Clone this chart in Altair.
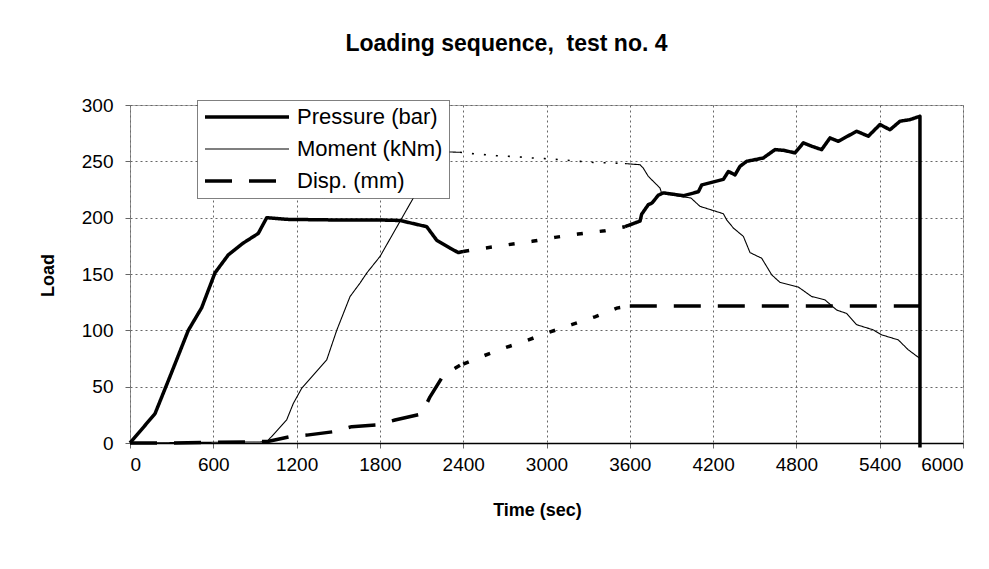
import altair as alt
import pandas as pd

SERIES = ["Pressure (bar)", "Moment (kNm)", "Disp. (mm)"]

# ---- Pressure (bar) ----
pres_a_t = [0, 180, 288, 420, 516, 612, 708, 816, 924, 985, 1128, 1450, 1777, 1945, 2137, 2209, 2305, 2365, 2400]
pres_a_v = [0, 26, 59, 100, 120, 151, 167, 177.5, 186, 200, 198.5, 198, 198, 197.5, 192, 180, 173, 169, 170]
pres_gap_t = [2400, 2557, 2723, 2896, 3061, 3227, 3421, 3565]
pres_gap_v = [170, 173, 176, 179, 182.5, 185.5, 188.4, 192]
pres_b_t = [3565, 3674, 3685, 3733, 3760, 3806, 3842, 3986, 4094, 4118, 4274, 4310, 4358, 4394, 4442,
            4562, 4646, 4706, 4790, 4850, 4910, 4982, 5042, 5102, 5234, 5318, 5402, 5474, 5546, 5618, 5690, 5690]
pres_b_v = [192, 197, 203, 211.5, 213, 220, 222, 219.5, 223, 229, 234, 241, 238, 245.6, 250,
            253, 260.4, 259.8, 257.5, 266.4, 263.4, 260.4, 270.8, 267.8, 276.7, 272.3, 282.7, 278, 285.6, 287, 290, -4]

# ---- Moment (kNm) ----
mom_a_t = [0, 985, 1128, 1176, 1237, 1417, 1489, 1585, 1657, 1705, 1801, 2041, 2233, 2377]
mom_a_v = [0, 1, 20.4, 35, 48.6, 73.8, 100, 130, 142, 150.8, 165.6, 217.5, 258.6, 258]
mom_gap_t = [2377, 2449, 2545, 2641, 2713, 2797, 2893, 2989, 3145, 3241, 3337, 3457, 3565]
mom_gap_v = [258, 257, 256, 255, 254.5, 254, 253, 252.4, 251, 250, 249, 248.6, 248]
mom_b_t = [3565, 3674, 3697, 3733, 3781, 3817, 3829, 3985, 4040, 4106, 4274, 4298, 4346, 4418, 4466,
           4550, 4622, 4682, 4814, 4910, 5006, 5090, 5162, 5234, 5354, 5414, 5534, 5606, 5690]
mom_b_v = [248, 247, 244, 236.7, 230.8, 226.4, 222, 218.4, 217.5, 210, 203.5, 198, 190.8, 183.4, 169,
           164, 149.3, 142.5, 138.4, 130, 127, 118, 115, 105, 100.4, 96, 91.5, 82.7, 75]

# ---- Disp. (mm) ----
disp_a_t = [0, 300, 600, 900, 1000, 1152, 1273, 1464, 1597, 1777, 1909, 2101, 2161, 2257, 2377]
disp_a_v = [0, 0, 0.5, 1, 1.5, 5.6, 7, 10, 14.5, 16, 20.4, 25.8, 41, 60, 69]
disp_gap_t = [2400, 2533, 2689, 2857, 3013, 3181, 3349, 3506, 3600]
disp_gap_v = [70, 76.7, 84, 91, 98, 105, 112, 119.7, 121.5]
disp_b_t = [3600, 5690]
disp_b_v = [121.5, 121.5]

x_ticks = list(range(0, 6001, 600))
y_ticks = list(range(0, 301, 50))


def frame(series, part, ts, vs):
    return pd.DataFrame({"t": ts, "v": vs, "series": series, "part": part, "idx": range(len(ts))})


solid = pd.concat([
    frame(SERIES[2], "d1", disp_a_t, disp_a_v),
    frame(SERIES[2], "d2", disp_b_t, disp_b_v),
    frame(SERIES[1], "m1", mom_a_t, mom_a_v),
    frame(SERIES[1], "m2", mom_b_t, mom_b_v),
    frame(SERIES[0], "p1", pres_a_t, pres_a_v),
    frame(SERIES[0], "p2", pres_b_t, pres_b_v),
])
gap_thick = pd.concat([
    frame(SERIES[0], "pg", pres_gap_t, pres_gap_v),
    frame(SERIES[2], "dg", disp_gap_t, disp_gap_v),
])
gap_thin = frame(SERIES[1], "mg", mom_gap_t, mom_gap_v)

FONT = "Liberation Sans"

xenc = alt.X("t:Q", scale=alt.Scale(domain=[0, 6000], nice=False),
             axis=alt.Axis(values=x_ticks, format="d", title="Time (sec)", titleX=407, titleY=67,
                           titleBaseline="middle", labelPadding=7, labelBaseline="top",
                           domainColor="black", domainWidth=1.5, domainDash=[1, 0]))
yenc = alt.Y("v:Q", scale=alt.Scale(domain=[0, 300], nice=False, clamp=False),
             axis=alt.Axis(values=y_ticks, format="d", title="Load", titleX=-82, titleY=170,
                           titleBaseline="middle", titleAngle=270, labelPadding=12,
                           domainColor="#777", domainDash=[1, 1]))

leg = alt.Legend(orient="none", legendX=67, legendY=-5, title=None, symbolType="stroke",
                 symbolSize=7056, clipHeight=22, labelFontSize=22, labelFont=FONT, labelOffset=6,
                 rowPadding=10, padding=6, fillColor="white", strokeColor="black",
                 symbolStrokeColor="black", labelLimit=400, labelColor="black")

solid_layer = alt.Chart(solid).mark_line(color="black", strokeJoin="round", clip=False).encode(
    x=xenc, y=yenc,
    strokeDash=alt.StrokeDash("series:N", scale=alt.Scale(type="ordinal", domain=SERIES,
                                                          range=[[1, 0], [1, 0], [27, 17]]), legend=leg),
    strokeWidth=alt.StrokeWidth("series:N", scale=alt.Scale(type="ordinal", domain=SERIES,
                                                            range=[3.5, 1.1, 3.5]), legend=leg),
    detail="part:N",
    order="idx:Q",
)

thick_gap = alt.Chart(gap_thick).mark_line(color="black", strokeWidth=3.5, strokeDash=[6, 17]).encode(
    x="t:Q", y="v:Q", detail="part:N", order="idx:Q")
thin_gap = alt.Chart(gap_thin).mark_line(color="black", strokeWidth=1.6, strokeDash=[2, 10]).encode(
    x="t:Q", y="v:Q", detail="part:N", order="idx:Q")

chart = alt.layer(thin_gap, thick_gap, solid_layer).properties(
    width=833, height=338,
    autosize=alt.AutoSizeParams(type="none"),
    padding={"left": 122, "top": 97, "right": 18, "bottom": 118},
    title=alt.TitleParams("Loading sequence,\u00a0 test no. 4", font=FONT, fontSize=23, fontWeight="bold",
                          color="black", anchor="middle", dx=-40, offset=40),
).configure_view(stroke="#555", strokeDash=[1, 1], strokeWidth=1).configure_axis(
    labelFont=FONT, labelFontSize=19, labelColor="black",
    titleFont=FONT, titleFontSize=18, titleFontWeight="bold", titleColor="black",
    gridColor="#666", gridDash=[2, 3], gridWidth=1,
    tickColor="#666", tickSize=5, tickWidth=1,
).configure_legend(strokeDash=[1, 1], strokeWidth=1)

chart.save("out.html", embed_options={"renderer": "svg", "actions": False})
